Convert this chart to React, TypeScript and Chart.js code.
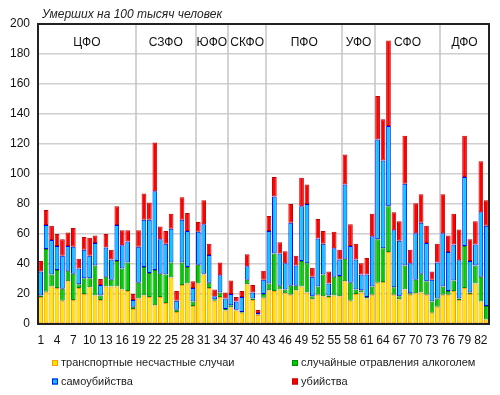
import React, { useEffect, useRef } from "react";
import { Chart, registerables } from "chart.js";

Chart.register(...registerables);

const categories = [
  "1","2","3","4","5","6","7","8","9","10","11","12","13","14","15","16","17","18","19","20",
  "21","22","23","24","25","26","27","28","29","30","31","32","33","34","35","36","37","38","39","40",
  "41","42","43","44","45","46","47","48","49","50","51","52","53","54","55","56","57","58","59","60",
  "61","62","63","64","65","66","67","68","69","70","71","72","73","74","75","76","77","78","79","80",
  "81","82","83",
];

const xTickLabels = ["1","4","7","10","13","16","19","22","25","28","31","34","37","40","43","46","49","52","55","58","61","64","67","70","73","76","79","82"];

const districts = ["ЦФО", "СЗФО", "ЮФО", "СКФО", "ПФО", "УФО", "СФО", "ДФО"];
const districtSizes = [18, 11, 6, 7, 14, 6, 12, 9];

// транспортные несчастные случаи
const transport = [
  18, 21.5, 25, 24, 15.5, 28.5, 16, 24, 20, 24.5, 19, 16, 25, 25, 25, 23, 22, 10,
  17, 19, 18, 12.5, 18, 14, 31, 8, 26, 27, 12,
  27, 33, 24, 15.5, 18, 9,
  11, 9, 7.5, 26.5, 16, 6, 17.5,
  22.5, 22, 23, 20.5, 19.5, 22.5, 25, 21, 16.5, 19.5, 18.5, 18, 19, 18.5,
  28.5, 15.5, 20, 21, 17, 19.5,
  27.5, 28, 48, 19.5, 16.5, 23, 19.5, 20.5, 21, 19.5, 7.5, 11.5,
  19.5, 19.5, 22, 16, 24, 20, 27, 15, 3,
];
// случайные отравления алкоголем
const alcohol = [
  1, 28.5, 8, 12, 8, 7, 17.5, 2.5, 10.5, 6, 20, 3, 6.5, 4.5, 17, 14, 19, 1.5,
  10.5, 19, 16, 23.5, 15.5, 19, 10, 1.5, 15, 11, 3,
  12.5, 0.5, 3.5, 1, 3, 1,
  1.5, 0.5, 0.5, 3, 1, 0.3, 2.5,
  4.5, 25, 2.5, 2.5, 6, 3, 17, 19.5, 2, 5.5, 14.5, 1, 12.5, 13.5,
  15, 12, 3, 1.5, 1, 5.5,
  29, 22.5, 30.5, 5, 2, 16, 1, 9, 12.5, 9, 7.5, 5.5,
  5.5, 2.5, 7, 1, 28, 1, 12, 16.5, 9,
];
// самоубийства
const suicide = [
  16, 16, 23, 16, 22, 16.5, 18, 10.5, 19, 15, 15, 7, 19.5, 13.5, 24, 15.5, 14, 4.5,
  24, 31.5, 35.5, 52.5, 23, 20.5, 22.5, 6, 28.5, 24, 9,
  22, 33, 18.5, 2, 11.5, 7,
  7.5, 5.5, 10, 9, 4, 1, 9.5,
  35, 38, 21.5, 17.5, 42, 13.5, 36.5, 39.5, 13, 32, 20.5, 8, 19, 11,
  49.5, 24.5, 20, 10.5, 15, 33.5,
  66.5, 58.5, 53.5, 38, 37, 54.5, 20, 31, 34, 25.5, 14.5, 24,
  35.5, 26, 24, 25.5, 46, 21, 14, 43, 53.5,
];
// убийства
const murder = [
  7, 10, 9.5, 8, 11, 9, 12.5, 6.5, 8.5, 12, 5, 4, 9, 6.5, 12.5, 10, 7.5, 4,
  11, 17.5, 11.5, 32.5, 8.5, 8.5, 10, 6.5, 15, 12, 4.5,
  6.5, 16, 7.5, 4.5, 8.5, 4,
  9, 3, 4, 8, 5, 2, 6,
  10, 13, 7.5, 8, 12.5, 6.5, 19, 13, 6, 13, 8.5, 8, 11, 6.5,
  20, 14.5, 10.5, 7.5, 11, 15,
  29, 27.5, 57, 12, 13, 32, 9, 20, 19, 11.5, 5.5, 12.5,
  26, 11, 20.5, 20.5, 27.5, 14.5, 15.5, 34, 17,
];

const yMin = 0;
const yMax = 200;
const yStep = 20;

const titleText = "Умерших на 100 тысяч человек";

const seriesLabels = [
  "транспортные несчастные случаи",
  "случайные отравления алкоголем",
  "самоубийства",
  "убийства",
];
const seriesData = [transport, alcohol, suicide, murder];
const fillColors = ["#FFE600", "#00CC00", "#00CCFF", "#FF0000"];
const borderColors = ["#FF9C00", "#008A00", "#0000FF", "#C40000"];

const FONT = "'Liberation Sans', Arial, sans-serif";

export default function App() {
  const ref = useRef<HTMLCanvasElement>(null);

  useEffect(() => {
    const canvas = ref.current;
    if (!canvas) return;

    const overlay = {
      id: "overlay",
      beforeDatasetsDraw(chart: any) {
        const { ctx, chartArea: a, scales } = chart;
        const x = scales.x;
        const w = x.getPixelForValue(1) - x.getPixelForValue(0);
        ctx.save();
        let idx = 0;
        districtSizes.forEach((n: number, k: number) => {
          const start = idx;
          idx += n;
          const left = x.getPixelForValue(start) - w / 2;
          const right = x.getPixelForValue(idx - 1) + w / 2;
          if (k < districtSizes.length - 1) {
            ctx.strokeStyle = "#c4c4c4";
            ctx.lineWidth = 1.5;
            ctx.beginPath();
            ctx.moveTo(Math.round(right), a.top);
            ctx.lineTo(Math.round(right), a.bottom);
            ctx.stroke();
          }
          ctx.fillStyle = "#111";
          ctx.font = `12px ${FONT}`;
          ctx.textAlign = "center";
          ctx.textBaseline = "middle";
          ctx.fillText(districts[k], (left + right) / 2, a.top + 19);
        });
        ctx.restore();
      },
      afterDatasetsDraw(chart: any) {
        const { ctx, chartArea: a } = chart;
        ctx.save();
        ctx.strokeStyle = "#222";
        ctx.lineWidth = 2;
        ctx.strokeRect(a.left, a.top, a.right - a.left, a.bottom - a.top);
        // title
        ctx.fillStyle = "#222";
        ctx.font = `italic 12px ${FONT}`;
        ctx.textAlign = "left";
        ctx.textBaseline = "middle";
        ctx.fillText(titleText, a.left + 4, a.top - 9);
        // legend
        const cols = [a.left + 14, a.left + 254];
        const rows = [a.bottom + 39, a.bottom + 57.5];
        seriesLabels.forEach((lab: string, i: number) => {
          const cx = cols[i % 2];
          const cy = rows[Math.floor(i / 2)];
          ctx.fillStyle = fillColors[i];
          ctx.fillRect(cx, cy - 3, 6, 6);
          ctx.strokeStyle = borderColors[i];
          ctx.lineWidth = 1;
          ctx.strokeRect(cx + 0.5, cy - 2.5, 5, 5);
          ctx.fillStyle = "#222";
          ctx.font = `11px ${FONT}`;
          ctx.textAlign = "left";
          ctx.textBaseline = "middle";
          ctx.fillText(lab, cx + 9, cy);
        });
        ctx.restore();
      },
    };

    const chart = new Chart(canvas, {
      type: "bar",
      data: {
        labels: categories,
        datasets: seriesData.map((d, i) => ({
          label: seriesLabels[i],
          data: d,
          backgroundColor: fillColors[i],
          borderColor: borderColors[i],
          borderWidth: 1,
          borderSkipped: false,
          barPercentage: 0.86,
          categoryPercentage: 1,
        })),
      },
      options: {
        animation: false,
        responsive: false,
        devicePixelRatio: 1,
        layout: { padding: { top: 24, right: 11, left: 0, bottom: 0 } },
        plugins: {
          legend: { display: false },
          tooltip: { enabled: false },
          title: { display: false },
        },
        scales: {
          x: {
            stacked: true,
            grid: { display: false, drawTicks: false },
            border: { display: false },
            afterFit(scale: any) {
              scale.height = 71;
            },
            ticks: {
              autoSkip: false,
              maxRotation: 0,
              minRotation: 0,
              padding: 9,
              color: "#111",
              font: { family: FONT, size: 12 },
              callback: (_v: any, i: number) =>
                xTickLabels.includes(categories[i]) ? categories[i] : "",
            },
          },
          y: {
            stacked: true,
            min: yMin,
            max: yMax,
            grid: { color: "#cfcfcf", lineWidth: 1.5, drawTicks: false },
            border: { display: false },
            afterFit(scale: any) {
              scale.width = 38;
            },
            ticks: {
              stepSize: yStep,
              padding: 8,
              color: "#111",
              font: { family: FONT, size: 12 },
            },
          },
        },
      },
      plugins: [overlay],
    });

    return () => chart.destroy();
  }, []);

  return (
    <div style={{ position: "absolute", left: 0, top: 0, width: 500, height: 395, background: "#fff" }}>
      <canvas ref={ref} width={500} height={395} />
    </div>
  );
}
